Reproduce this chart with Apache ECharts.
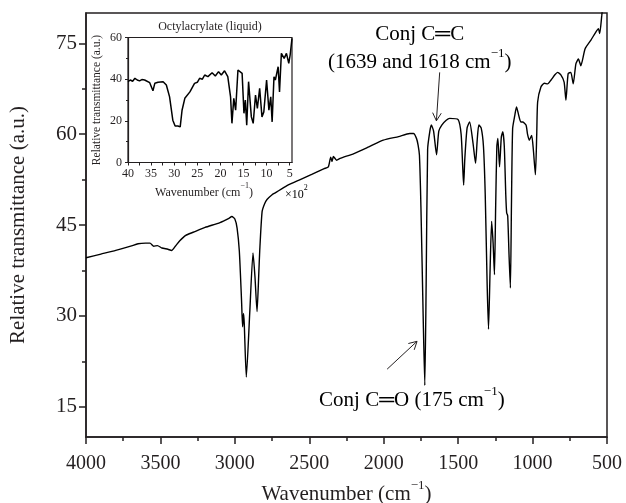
<!DOCTYPE html>
<html>
<head>
<meta charset="utf-8">
<script src="https://cdn.jsdelivr.net/npm/echarts@6/dist/echarts.min.js"></script>
<style>
  html, body { margin: 0; padding: 0; background: #fff; }
  #chart { width: 626px; height: 503px; }
</style>
</head>
<body>
<div id="chart"></div>
<script>
// main spectrum, wavenumber (cm-1) vs relative transmittance (a.u.)
const wavenumber = [
  4000, 3900, 3800, 3700, 3650, 3600, 3570, 3545, 3520, 3490,
  3450, 3425, 3400, 3370, 3330, 3280, 3200, 3100, 3040, 3020,
  3000, 2985, 2970, 2955, 2948, 2942, 2937, 2923, 2900, 2878,
  2865, 2851, 2840, 2833, 2817, 2800, 2784, 2750, 2729, 2650,
  2561, 2480, 2400, 2372, 2356, 2347, 2338, 2316, 2293, 2200,
  2100, 2003, 1900, 1825, 1800, 1780, 1769, 1760, 1750, 1735,
  1724, 1715, 1705, 1690, 1680, 1665, 1645, 1630, 1610, 1580,
  1557, 1500, 1480, 1470, 1463, 1455, 1440, 1423, 1400, 1383,
  1372, 1361, 1345, 1330, 1318, 1305, 1296, 1285, 1275, 1265,
  1256, 1248, 1240, 1233, 1222, 1210, 1200, 1190, 1180, 1174,
  1167, 1158, 1149, 1142, 1134, 1120, 1108, 1095, 1079, 1067,
  1044, 1034, 1022, 1006, 995, 981, 972, 966, 944, 921,
  899, 877, 850, 832, 810, 788, 776, 761, 743, 727,
  709, 692, 676, 647, 609, 576, 558, 549, 535, 525
];
const transmittance = [
  39.6, 40.2, 40.8, 41.5, 41.9, 42.0, 42.0, 41.5, 41.6, 41.2,
  41.0, 40.8, 41.5, 42.4, 43.3, 43.8, 44.6, 45.4, 46.1, 46.4,
  46.0, 44.5, 40.7, 32.5, 28.2, 30.4, 28.8, 19.9, 30.5, 40.4,
  36.5, 30.7, 36.5, 40.7, 47.2, 48.5, 49.2, 50.0, 50.3, 51.5,
  52.5, 53.4, 54.3, 54.6, 56.2, 55.5, 56.3, 55.7, 56.0, 56.8,
  57.9, 59.0, 59.6, 60.1, 60.1, 59.3, 58.2, 56.5, 48.0, 30.0,
  18.5, 35.0, 57.5, 60.5, 61.5, 60.5, 56.6, 60.5, 61.5, 62.3,
  62.6, 62.4, 60.0, 55.0, 51.6, 56.0, 61.0, 62.0, 58.5, 55.2,
  59.0, 61.5, 61.0, 58.0, 50.0, 35.0, 27.8, 38.0, 45.6, 42.0,
  36.8, 48.0, 58.0, 59.3, 54.6, 59.5, 60.4, 58.0, 50.0, 47.0,
  46.5, 40.0, 34.6, 48.0, 60.9, 63.0, 64.5, 63.3, 62.0, 62.0,
  61.5, 60.0, 59.0, 59.8, 57.5, 53.3, 60.0, 65.3, 67.8, 68.4,
  68.3, 68.9, 69.8, 70.2, 69.8, 68.6, 65.6, 70.0, 70.2, 68.3,
  71.6, 72.4, 71.3, 74.1, 75.5, 76.8, 77.4, 76.6, 79.6, 82.0
];

// inset: octylacrylate (liquid), wavenumber in units of 10^2 cm-1
const insetWave = [
  40.0, 39.5, 39.0, 38.5, 38.0, 37.5, 37.0, 36.4, 36.0, 35.3,
  35.0, 34.6, 34.2, 33.5, 33.1, 32.4, 32.0, 31.7, 31.0, 30.3,
  29.8, 29.5, 29.2, 28.9, 28.7, 28.3, 27.7, 26.6, 25.6, 25.0,
  24.5, 23.9, 23.4, 22.7, 21.8, 21.1, 20.4, 19.8, 19.1, 18.4,
  17.8, 17.5, 17.1, 16.7, 16.2, 15.8, 15.3, 14.9, 14.6, 14.3,
  13.9, 13.3, 12.9, 12.4, 12.0, 11.5, 11.0, 10.6, 10.0, 9.5,
  9.1, 8.8, 8.4, 8.1, 7.5, 7.2, 6.8, 6.2, 5.7, 5.2,
  4.9, 4.5
];
const insetTrans = [
  38.8, 39.6, 39.0, 40.4, 39.6, 39.2, 39.8, 39.6, 39.0, 38.3,
  38.6, 34.4, 38.0, 38.5, 38.3, 38.8, 38.0, 37.2, 31.5, 20.3,
  17.5, 16.8, 17.5, 16.6, 17.1, 25.1, 30.8, 33.9, 38.0, 38.5,
  40.4, 40.0, 42.0, 41.2, 43.1, 41.5, 43.6, 42.0, 44.0, 41.2,
  31.5, 18.8, 30.8, 25.1, 44.4, 45.2, 42.8, 23.6, 30.0, 17.9,
  38.8, 21.9, 18.8, 32.4, 26.0, 35.6, 21.9, 24.3, 39.6, 25.1,
  31.5, 19.5, 41.2, 39.6, 46.0, 33.9, 52.4, 50.0, 52.4, 47.6,
  51.6, 59.6
];

const yMajorTicks = [15, 30, 45, 60, 75];
const yMinorTicks = [22.5, 37.5, 52.5, 67.5];
const insetXLabels = [40, 35, 30, 25, 20, 15, 10, 5];
const insetXTicks = [40, 37.5, 35, 32.5, 30, 27.5, 25, 22.5, 20, 17.5, 15, 12.5, 10, 7.5, 5];

const FONT = "'Liberation Serif', 'DejaVu Serif', serif";
const INK = '#231f20';

const chartDom = document.getElementById('chart');
const myChart = echarts.init(chartDom);

const supRich = (big, small) => ({
  t: { fontSize: big, fontFamily: FONT, color: INK, lineHeight: big + 5, verticalAlign: 'bottom' },
  s: { fontSize: small, fontFamily: FONT, color: INK, lineHeight: small, verticalAlign: 'top' }
});

const zip = (xs, ys) => xs.map((x, i) => [x, ys[i]]);

const option = {
  animation: false,
  grid: [
    { left: 86, right: 19, top: 13, bottom: 66, outerBoundsMode: 'none', containLabel: false,
      show: true, borderColor: INK, borderWidth: 1.5 },
    { left: 128, top: 37.5, width: 164, height: 125, outerBoundsMode: 'none', containLabel: false,
      show: true, borderColor: INK, borderWidth: 1.2, backgroundColor: '#fff' }
  ],
  xAxis: [
    {
      type: 'value', gridIndex: 0, inverse: true,
      min: 500, max: 4000, interval: 500,
      axisLine: { lineStyle: { color: INK, width: 1.5 } },
      axisTick: { length: 7, lineStyle: { color: INK, width: 1.5 } },
      minorTick: { show: true, splitNumber: 2, length: 4, lineStyle: { color: INK, width: 1.5 } },
      splitLine: { show: false },
      axisLabel: { fontSize: 20, fontFamily: FONT, color: INK, margin: 17, formatter: (v) => String(v) },
      name: '{t|Wavenumber (cm}{s|−1}{t|)}',
      nameLocation: 'middle', nameGap: 40,
      nameTextStyle: { rich: supRich(21, 13) }
    },
    {
      type: 'value', gridIndex: 1, inverse: true,
      min: 4.5, max: 40,
      axisLine: { lineStyle: { color: INK, width: 1.2 } },
      axisTick: { customValues: insetXTicks, length: 3, lineStyle: { color: INK, width: 1 } },
      splitLine: { show: false },
      axisLabel: { customValues: insetXLabels, fontSize: 12, fontFamily: FONT, color: INK, margin: 5 },
      name: '{t|Wavenumber (cm}{s|−1}{t|)}',
      nameLocation: 'middle', nameGap: 19,
      nameTextStyle: { rich: supRich(12, 8), padding: [0, 12, 0, 0] }
    }
  ],
  yAxis: [
    {
      type: 'value', gridIndex: 0, position: 'left',
      min: 10, max: 80,
      axisLine: { show: true, lineStyle: { color: INK, width: 1.5 } },
      axisTick: { show: true, customValues: yMajorTicks, length: 7, lineStyle: { color: INK, width: 1.5 } },
      splitLine: { show: false },
      axisLabel: { customValues: yMajorTicks, fontSize: 21, fontFamily: FONT, color: INK, margin: 9 },
      name: 'Relative transmittance (a.u.)',
      nameLocation: 'middle', nameGap: 57,
      nameTextStyle: { fontSize: 21, fontFamily: FONT, color: INK }
    },
    {
      // minor ticks only
      type: 'value', gridIndex: 0, position: 'left',
      min: 10, max: 80,
      axisLine: { show: false },
      axisTick: { show: true, customValues: yMinorTicks, length: 4, lineStyle: { color: INK, width: 1.5 } },
      splitLine: { show: false },
      axisLabel: { show: false }
    },
    {
      type: 'value', gridIndex: 1, position: 'left',
      min: 0, max: 60, interval: 20,
      axisLine: { show: true, lineStyle: { color: INK, width: 1.2 } },
      axisTick: { show: true, length: 3, lineStyle: { color: INK, width: 1 } },
      minorTick: { show: true, splitNumber: 2, length: 2, lineStyle: { color: INK, width: 1 } },
      splitLine: { show: false },
      axisLabel: { fontSize: 12, fontFamily: FONT, color: INK, margin: 6 },
      name: 'Relative transmittance (a.u.)',
      nameLocation: 'middle', nameGap: 25,
      nameTextStyle: { fontSize: 11.5, fontFamily: FONT, color: INK }
    }
  ],
  series: [
    {
      type: 'line', xAxisIndex: 0, yAxisIndex: 0,
      data: zip(wavenumber, transmittance),
      showSymbol: false, smooth: 0.2,
      lineStyle: { color: '#000', width: 1.4 }
    },
    {
      type: 'line', xAxisIndex: 1, yAxisIndex: 2,
      data: zip(insetWave, insetTrans),
      showSymbol: false,
      lineStyle: { color: '#000', width: 1.5 }
    }
  ]
};

myChart.setOption(option);

// annotations, anchored in data coordinates of the main plot
const px = (pt) => myChart.convertToPixel({ xAxisIndex: 0, yAxisIndex: 0 }, pt);

const arrow = (from, to) => {
  const a = px(from), b = px(to);
  const ang = Math.atan2(b[1] - a[1], b[0] - a[0]);
  const L = 9, w = 0.5;
  const h1 = [b[0] - L * Math.cos(ang - w), b[1] - L * Math.sin(ang - w)];
  const h2 = [b[0] - L * Math.cos(ang + w), b[1] - L * Math.sin(ang + w)];
  return [
    { type: 'line', shape: { x1: a[0], y1: a[1], x2: b[0], y2: b[1] }, style: { stroke: INK, lineWidth: 1 } },
    { type: 'polyline', shape: { points: [h1, b, h2] }, style: { stroke: INK, lineWidth: 1, fill: null } }
  ];
};

const label = (pt, text, rich) => {
  const p = px(pt);
  return {
    type: 'text', x: p[0], y: p[1],
    style: { text, rich, align: 'center', verticalAlign: 'middle' }
  };
};

const insetTitlePos = myChart.convertToPixel({ xAxisIndex: 1, yAxisIndex: 2 }, [22.25, 60]);
const insetUnitPos = myChart.convertToPixel({ xAxisIndex: 1, yAxisIndex: 2 }, [6, 0]);

myChart.setOption({
  graphic: [
    label([1758, 76.8], '{t|Conj C═C}', supRich(21, 13)),
    label([1758, 72.2], '{t|(1639 and 1618 cm}{s|−1}{t|)}', supRich(21, 13)),
    ...arrow([1624, 70.2], [1646, 62.2]),
    label([1811, 16.4], '{t|Conj C═O (175 cm}{s|−1}{t|)}', supRich(21, 13)),
    ...arrow([1977, 21.2], [1776, 25.8]),
    {
      type: 'text', x: insetTitlePos[0], y: insetTitlePos[1] - 11,
      style: { text: 'Octylacrylate (liquid)', font: "12px " + FONT, fill: INK, align: 'center', verticalAlign: 'middle' }
    },
    {
      type: 'text', x: insetUnitPos[0], y: insetUnitPos[1] + 30,
      style: { text: '{t|×10}{s|2}', rich: supRich(12, 8), align: 'left', verticalAlign: 'middle' }
    }
  ]
});
</script>
</body>
</html>
